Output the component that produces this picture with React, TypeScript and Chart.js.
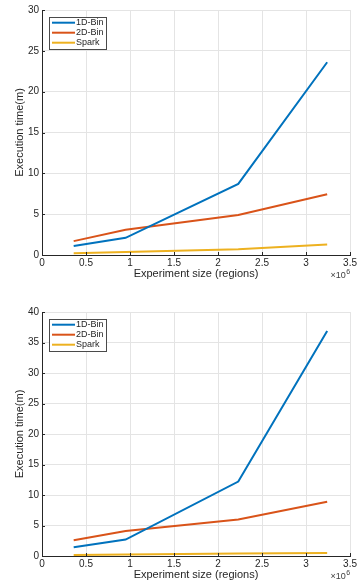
import React, { useEffect, useRef } from "react";
import { Chart, registerables } from "chart.js";

Chart.register(...registerables);

// Experiment size in units of 10^6 regions
const xValues = [0.36, 0.95, 2.23, 3.24];
const xTicks = [0, 0.5, 1, 1.5, 2, 2.5, 3, 3.5];
const seriesNames = ["1D-Bin", "2D-Bin", "Spark"];
const seriesColors = ["#0072BD", "#D95319", "#EDB120"];

// Top panel (execution time in minutes)
const top1DBin = [1.1, 2.1, 8.7, 23.6];
const top2DBin = [1.7, 3.1, 4.9, 7.45];
const topSpark = [0.2, 0.37, 0.7, 1.3];
const topYTicks = [0, 5, 10, 15, 20, 25, 30];

// Bottom panel (execution time in minutes)
const bottom1DBin = [1.42, 2.7, 12.2, 36.9];
const bottom2DBin = [2.57, 4.1, 6.0, 8.9];
const bottomSpark = [0.17, 0.25, 0.4, 0.5];
const bottomYTicks = [0, 5, 10, 15, 20, 25, 30, 35, 40];

const xTitle = "Experiment size (regions)";
const yTitle = "Execution time(m)";
const xExponent = "6";

const FONT = "'Liberation Sans', Arial, Helvetica, sans-serif";
const TEXT = "#262626";
const GRID = "#e4e4e4";

type PanelProps = {
  top: number;
  height: number;
  padTop: number;
  yTicks: number[];
  series: number[][];
};

function Panel({ top, height, padTop, yTicks, series }: PanelProps) {
  const ref = useRef<HTMLCanvasElement>(null);

  useEffect(() => {
    const canvas = ref.current;
    if (!canvas) return;

    const extras = {
      id: "matlabExtras",
      afterDraw(chart: any) {
        const ctx = chart.ctx as CanvasRenderingContext2D;
        const area = chart.chartArea;
        const xs = chart.scales.x;
        const ys = chart.scales.y;
        ctx.save();
        // inward tick marks
        ctx.strokeStyle = TEXT;
        ctx.lineWidth = 1;
        ctx.beginPath();
        xTicks.forEach((v) => {
          const px = Math.round(xs.getPixelForValue(v)) + 0.5;
          ctx.moveTo(px, area.bottom);
          ctx.lineTo(px, area.bottom - 3);
        });
        yTicks.forEach((v) => {
          const py = Math.round(ys.getPixelForValue(v)) + 0.5;
          ctx.moveTo(area.left, py);
          ctx.lineTo(area.left + 3, py);
        });
        ctx.stroke();

        // x10^6 exponent label
        ctx.fillStyle = "#404040";
        ctx.textBaseline = "middle";
        ctx.textAlign = "right";
        ctx.font = `7px ${FONT}`;
        const expW = ctx.measureText(xExponent).width;
        ctx.fillText(xExponent, area.right, area.bottom + 17);
        ctx.font = `9px ${FONT}`;
        ctx.fillText("\u00d710", area.right - expW - 0.3, area.bottom + 21);

        // legend box
        const lx = area.left + 7;
        const ly = area.top + 7;
        const lw = 57;
        const lh = 32;
        ctx.fillStyle = "#ffffff";
        ctx.fillRect(lx, ly, lw, lh);
        ctx.strokeStyle = "#4a4a4a";
        ctx.lineWidth = 1;
        ctx.strokeRect(Math.round(lx) + 0.5, Math.round(ly) + 0.5, lw, lh);
        ctx.font = `9px ${FONT}`;
        ctx.textAlign = "left";
        ctx.textBaseline = "middle";
        seriesNames.forEach((name, i) => {
          const ry = ly + 5.7 + i * 10;
          ctx.strokeStyle = seriesColors[i];
          ctx.lineWidth = 2;
          ctx.beginPath();
          ctx.moveTo(lx + 3, ry);
          ctx.lineTo(lx + 26, ry);
          ctx.stroke();
          ctx.fillStyle = TEXT;
          ctx.fillText(name, lx + 27, ry);
        });
        ctx.restore();
      },
    };

    const chart = new Chart(canvas, {
      type: "line",
      data: {
        datasets: series.map((vals, i) => ({
          label: seriesNames[i],
          data: vals.map((y, j) => ({ x: xValues[j], y })),
          borderColor: seriesColors[i],
          backgroundColor: seriesColors[i],
          borderWidth: 2,
          pointRadius: 0,
          tension: 0,
          fill: false,
        })),
      },
      options: {
        responsive: false,
        animation: false,
        devicePixelRatio: 1,
        layout: { padding: { left: 0, right: 6, top: padTop, bottom: 0 } },
        plugins: {
          legend: { display: false },
          tooltip: { enabled: false },
        },
        scales: {
          x: {
            type: "linear",
            min: 0,
            max: 3.5,
            afterBuildTicks: (scale: any) => {
              scale.ticks = xTicks.map((v) => ({ value: v }));
            },
            afterFit: (scale: any) => {
              scale.height = 26;
            },
            ticks: {
              autoSkip: false,
              maxRotation: 0,
              padding: 2,
              color: TEXT,
              font: { family: FONT, size: 10 },
              callback: (v: any) => String(v),
            },
            grid: { color: GRID, drawTicks: false },
            border: { color: TEXT, width: 1 },
            title: {
              display: true,
              text: xTitle,
              color: TEXT,
              font: { family: FONT, size: 11 },
              padding: { top: 0, bottom: 0.4 },
            },
          },
          y: {
            type: "linear",
            min: yTicks[0],
            max: yTicks[yTicks.length - 1],
            afterBuildTicks: (scale: any) => {
              scale.ticks = yTicks.map((v) => ({ value: v }));
            },
            afterFit: (scale: any) => {
              scale.width = 42;
            },
            ticks: {
              padding: 3,
              color: TEXT,
              font: { family: FONT, size: 10 },
              callback: (v: any) => String(v),
            },
            grid: { color: GRID, drawTicks: false },
            border: { color: TEXT, width: 1 },
            title: {
              display: true,
              text: yTitle,
              color: TEXT,
              font: { family: FONT, size: 11 },
              padding: { top: 13.4, bottom: 0 },
            },
          },
        },
      } as any,
      plugins: [extras],
    });

    return () => chart.destroy();
  }, []);

  return (
    <canvas
      ref={ref}
      width={359}
      height={height}
      style={{ position: "absolute", left: 0, top, width: 359, height, display: "block" }}
    />
  );
}

export default function App() {
  return (
    <div
      style={{
        position: "fixed",
        left: 0,
        top: 0,
        width: 359,
        height: 582,
        background: "#ffffff",
        overflow: "hidden",
      }}
    >
      <Panel top={0} height={281} padTop={10} yTicks={topYTicks} series={[top1DBin, top2DBin, topSpark]} />
      <Panel
        top={281}
        height={301}
        padTop={31}
        yTicks={bottomYTicks}
        series={[bottom1DBin, bottom2DBin, bottomSpark]}
      />
    </div>
  );
}
